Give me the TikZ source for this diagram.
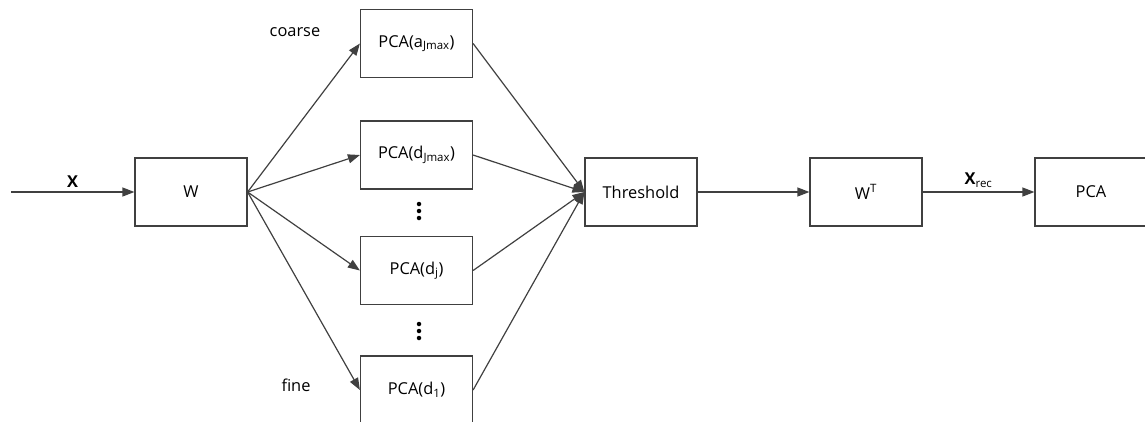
\documentclass[tikz,border=0pt]{standalone}
\usepackage{fontspec}
\setmainfont{Open Sans}
\usetikzlibrary{arrows.meta}
\definecolor{ink}{HTML}{404040}
\begin{document}
\begin{tikzpicture}[x=1pt,y=-1pt,
  txt/.style={font=\fontsize{16.4}{19}\selectfont, text=black},
  block/.style={txt, draw=ink, line width=1.2pt, minimum width=112pt,
    minimum height=68pt, inner sep=0pt},
  flow/.style={draw=ink, line width=1.2pt,
    -{Triangle[length=12pt,width=9pt]}},
  dot/.style={circle, fill=black, inner sep=0pt, minimum size=4.5pt}]
\useasboundingbox (0,0) rectangle (1145,421);
\clip (0,0) rectangle (1145,421);

% processing blocks
\node[block] (w)   at (191,192)   {W};
\node[block] (pa)  at (416.5,43.5) {PCA(a\textsubscript{Jmax})};
\node[block] (pdJ) at (416.5,155)  {PCA(d\textsubscript{Jmax})};
\node[block] (pdj) at (416.5,270.5) {PCA(d\textsubscript{j})};
\node[block] (pd1) at (416.5,390)  {PCA(d\textsubscript{1})};
\node[block] (th)  at (641,192)   {Threshold};
\node[block] (wt)  at (866,192)   {W\textsuperscript{T}};
\node[block] (pca) at (1091,192)  {PCA};
\coordinate (in) at (11,192);

% scale labels
\node[txt] (coarse) at (295,32)  {coarse};
\node[txt] (fine)   at (296,385) {fine};

% vertical ellipses between the detail levels
\foreach \k/\y in {1/204,2/211,3/218} \node[dot] (da\k) at (419,\y) {};
\foreach \k/\y in {1/324,2/331,3/338} \node[dot] (db\k) at (419,\y) {};

% input and decomposition
\draw[flow] (in) -- node[txt, above, inner sep=4pt] {\textbf{X}} (w);
\foreach \b in {pa,pdJ,pdj,pd1} \draw[flow] (w.east) -- (\b.west);

% merging into the threshold
\foreach \b in {pa,pdJ,pdj,pd1} \draw[flow] (\b.east) -- (th.west);

% reconstruction
\draw[flow] (th) -- (wt);
\draw[flow] (wt) -- node[txt, above, inner sep=4pt] {\textbf{X}\textsubscript{rec}} (pca);
\end{tikzpicture}
\end{document}
